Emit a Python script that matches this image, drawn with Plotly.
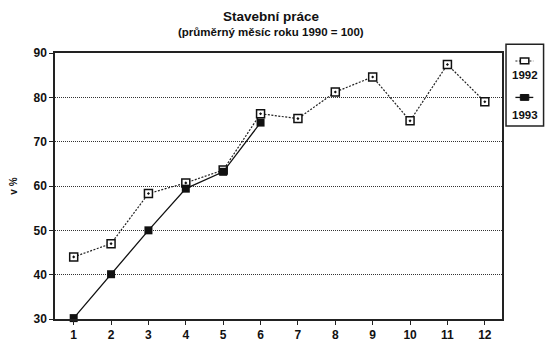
import plotly.graph_objects as go

months = [1, 2, 3, 4, 5, 6, 7, 8, 9, 10, 11, 12]
tick_labels = ["1", "2", "3", "4", "5", "6", "7", "8", "9", "10", "11", "12"]
values_1992 = [44.0, 47.0, 58.3, 60.7, 63.6, 76.3, 75.2, 81.2, 84.6, 74.7, 87.4, 79.0]
months_1993 = [1, 2, 3, 4, 5, 6]
values_1993 = [30.2, 40.1, 50.0, 59.4, 63.2, 74.3]
series_names = ["1992", "1993"]

FONT = "Liberation Sans"

fig = go.Figure()
fig.add_trace(go.Scatter(
    x=months, y=values_1992, mode="lines+markers", name=series_names[0],
    line=dict(color="#222", width=1.2, dash="2px,1.5px"),
    marker=dict(symbol="square-dot", size=8, color="white",
                line=dict(color="#111", width=1.5)),
    showlegend=False, cliponaxis=False,
))
fig.add_trace(go.Scatter(
    x=months_1993, y=values_1993, mode="lines+markers", name=series_names[1],
    line=dict(color="#111", width=1.3),
    marker=dict(symbol="square", size=8, color="#111"),
    showlegend=False, cliponaxis=False,
))

fig.update_layout(
    width=546, height=354,
    margin=dict(l=52, r=44, t=53, b=31),
    paper_bgcolor="white", plot_bgcolor="white",
    font=dict(family=FONT, color="#111"),
    xaxis=dict(
        range=[0.5, 12.46], tickvals=months, ticktext=tick_labels,
        showgrid=False, zeroline=False,
        showline=True, linecolor="#222", linewidth=1.5, mirror=True,
        ticks="outside", ticklen=4, tickcolor="#222",
        tickfont=dict(size=12, family=FONT, weight="bold", color="#111"),
    ),
    yaxis=dict(
        range=[30, 90], tickvals=[30, 40, 50, 60, 70, 80, 90],
        showgrid=True, gridcolor="#333", gridwidth=1, griddash="1px,1px",
        zeroline=False,
        showline=True, linecolor="#222", linewidth=1.5, mirror=True,
        ticks="outside", ticklen=4, tickcolor="#222",
        tickfont=dict(size=12, family=FONT, weight="bold", color="#111"),
        title=dict(text="v %", standoff=14,
                   font=dict(size=10, family=FONT, weight="bold", color="#111")),
    ),
)

# Title and subtitle
fig.add_annotation(text="<b>Stavební práce</b>", xref="paper", yref="paper",
                   x=0.484, y=1.0, yshift=37, showarrow=False,
                   xanchor="center", yanchor="middle",
                   font=dict(size=13.5, family=FONT, color="#111"))
fig.add_annotation(text="<b>(průměrný měsíc roku 1990 = 100)</b>", xref="paper", yref="paper",
                   x=0.484, y=1.0, yshift=21, showarrow=False,
                   xanchor="center", yanchor="middle",
                   font=dict(size=11.5, family=FONT, color="#111"))

# Custom legend box (paper coordinates)
fig.add_shape(type="rect", xref="paper", yref="paper", layer="below",
              x0=1.009, x1=1.093, y0=0.726, y1=1.033,
              line=dict(color="#222", width=1.5), fillcolor="white")
# 1992 sample
fig.add_shape(type="line", xref="paper", yref="paper",
              x0=1.030, x1=1.070, y0=0.970, y1=0.970,
              line=dict(color="#222", width=1.2, dash="2px,1.5px"))
fig.add_shape(type="rect", xref="paper", yref="paper",
              x0=1.041, x1=1.060, y0=0.960, y1=0.981,
              line=dict(color="#111", width=1.5), fillcolor="white")
fig.add_annotation(text="<b>1992</b>", xref="paper", yref="paper",
                   x=1.051, y=0.919, showarrow=False,
                   xanchor="center", yanchor="middle",
                   font=dict(size=11.5, family=FONT, color="#111"))
# 1993 sample
fig.add_shape(type="line", xref="paper", yref="paper",
              x0=1.030, x1=1.070, y0=0.833, y1=0.833,
              line=dict(color="#111", width=1.3))
fig.add_shape(type="rect", xref="paper", yref="paper",
              x0=1.041, x1=1.060, y0=0.822, y1=0.844,
              line=dict(color="#111", width=1), fillcolor="#111")
fig.add_annotation(text="<b>1993</b>", xref="paper", yref="paper",
                   x=1.051, y=0.767, showarrow=False,
                   xanchor="center", yanchor="middle",
                   font=dict(size=11.5, family=FONT, color="#111"))

fig.write_html("out.html")
